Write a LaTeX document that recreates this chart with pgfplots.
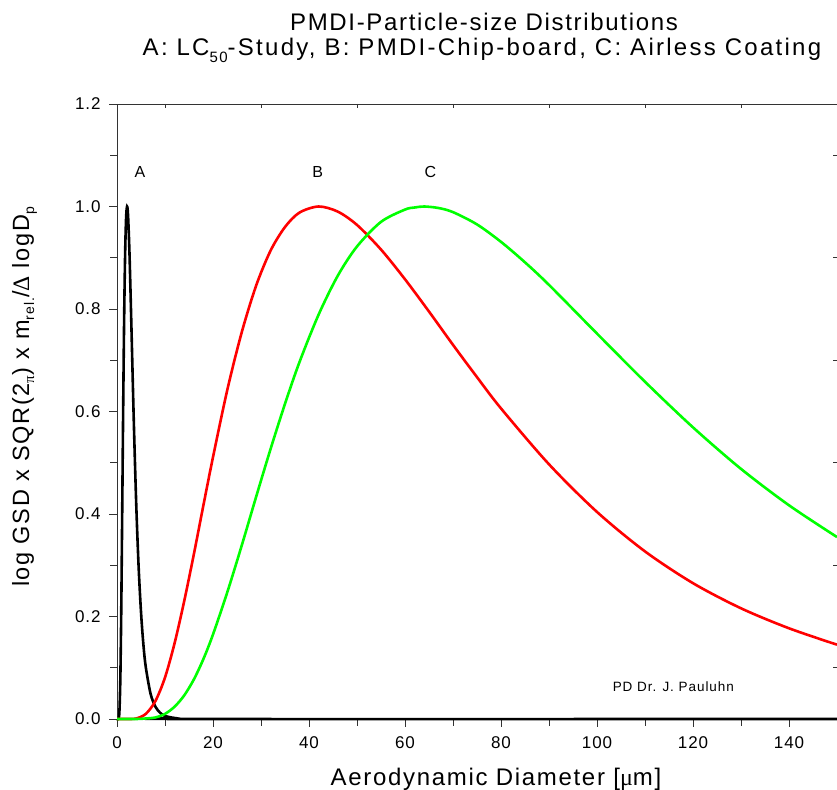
\documentclass[border=0pt]{standalone}
\usepackage{fontspec}
\setmainfont{Liberation Sans}[LetterSpace=7]
\newfontfamily\tickfont{Liberation Sans}[LetterSpace=5]
\newfontfamily\greek{Liberation Serif}[LetterSpace=7]
\usepackage{pgfplots}
\pgfplotsset{compat=1.18}

\newcommand\fs[1]{\fontsize{#1bp}{#1bp}\selectfont}

\begin{document}
\begin{tikzpicture}
\path[use as bounding box] (0,0) rectangle (837bp,790bp);
\begin{axis}[
    at={(117bp,71bp)}, anchor=south west,
    scale only axis, width=720bp, height=615bp,
    xmin=0, xmax=150, ymin=0, ymax=1.2,
    clip=false,
    xtick={0,20,40,60,80,100,120,140},
    minor xtick={10,30,50,70,90,110,130,150},
    ytick={0,0.2,0.4,0.6,0.8,1.0,1.2},
    minor ytick={0.1,0.3,0.5,0.7,0.9,1.1},
    xtick pos=left, ytick pos=left,
    tick align=outside,
    major tick length=8bp, minor tick length=7bp,
    axis line style={black!80, line width=0.8bp},
    every tick/.style={black!80, line width=0.8bp},
    ticklabel style={font=\tickfont\fs{17}},
    /pgf/number format/assume math mode=true,
    xticklabel style={yshift=-6bp},
    yticklabel style={xshift=-5bp, /pgf/number format/.cd, fixed, fixed zerofill, precision=1},
]
% A: LC50 study
\addplot[black, line width=2.6bp, smooth] coordinates {
    (0,0) (0.3,0) (0.5,0.014) (0.7,0.081) (0.9,0.224) (1.1,0.419) (1.3,0.619)
    (1.5,0.79) (1.7,0.911) (1.9,0.979) (2.1,1.0) (2.3,0.983) (2.6,0.909)
    (3.0,0.767) (3.5,0.581) (4.0,0.421) (4.5,0.298) (5.0,0.209) (5.5,0.145)
    (6.0,0.101) (7.0,0.049) (8.0,0.024) (9.0,0.012) (10,0.006) (12,0.002)
    (15,0) (150,0)};
% B: chip-board
\addplot[red, line width=2.6bp, smooth] coordinates {
    (0,0) (2,0) (4,0.001) (6,0.01) (8,0.035) (10,0.081) (12,0.148) (14,0.230)
    (16,0.321) (18,0.417) (20,0.511) (23,0.643) (26,0.755) (29,0.846)
    (32,0.914) (35,0.960) (38,0.988) (42,1.0) (46,0.990) (50,0.964)
    (55,0.916) (60,0.858) (65,0.795) (70,0.730) (75,0.667) (80,0.606)
    (90,0.497) (100,0.404) (110,0.327) (120,0.265) (130,0.216) (140,0.177)
    (150,0.145)};
% C: airless coating
\addplot[green, line width=2.6bp, smooth] coordinates {
    (0,0) (4,0) (6,0.001) (8,0.003) (10,0.010) (12,0.024) (14,0.046)
    (16,0.077) (18,0.117) (20,0.165) (23,0.248) (26,0.339) (29,0.434)
    (32,0.527) (35,0.615) (38,0.696) (42,0.789) (46,0.865) (50,0.922)
    (55,0.970) (60,0.994) (62,0.998) (64,1.0) (67,0.997) (70,0.989)
    (75,0.965) (80,0.931) (85,0.891) (90,0.847) (100,0.752) (110,0.658)
    (120,0.569) (130,0.488) (140,0.417) (150,0.355)};
\node[font=\fs{16}] at (axis cs:4.8,1.067) {A};
\node[font=\fs{16}] at (axis cs:41.8,1.067) {B};
\node[font=\fs{16}] at (axis cs:65.3,1.067) {C};
\node[font=\fs{13.5}, anchor=base] at (axis cs:115.9,0.053) {PD Dr. J. Pauluhn};
\end{axis}
% inner ticks on top and right
\begin{axis}[
    at={(117bp,71bp)}, anchor=south west,
    scale only axis, width=720bp, height=615bp,
    xmin=0, xmax=150, ymin=0, ymax=1.2,
    axis line style={draw=none},
    xtick={10,30,50,70,90,110,130,150}, xticklabels={},
    ytick={0.1,0.3,0.5,0.7,0.9,1.1}, yticklabels={},
    xtick pos=right, ytick pos=right,
    tick align=inside, major tick length=4bp,
    every tick/.style={black!80, line width=0.8bp},
]
\end{axis}
\node[anchor=base, font=\fs{24}] at (484bp,759bp) {PMDI-Particle-size Distributions};
\node[anchor=base, font=\fs{24}\addfontfeatures{LetterSpace=9.5}] at (482bp,734bp)
    {A: LC\raisebox{-7bp}{\fs{15}50}-Study, B: PMDI-Chip-board, C: Airless Coating};
\node[anchor=base, font=\fs{24}] at (496bp,5bp) {Aerodynamic Diameter [{\greek μ}m]};
\node[anchor=base, rotate=90, font=\fs{23.5}] at (29bp,393bp)
    {log GSD x SQR(2\raisebox{-5bp}{\fs{15}\greek π}) x m\raisebox{-5bp}{\fs{14}rel.}/{\greek Δ} logD\raisebox{-5bp}{\fs{14}p}};
\end{tikzpicture}
\end{document}
